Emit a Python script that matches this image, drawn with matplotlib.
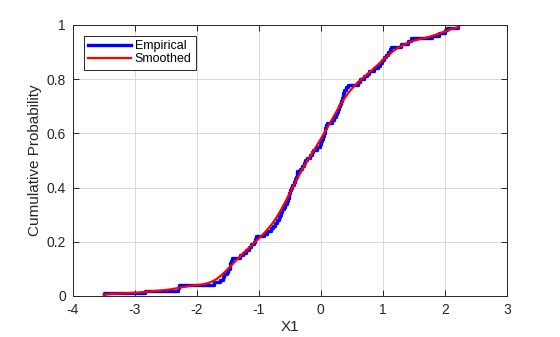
import math

import numpy as np
import matplotlib
matplotlib.use("Agg")
import matplotlib.pyplot as plt

# sorted sample (100 points, steps of 0.01)
x1_sorted = [
    -3.50, -2.84, -2.30, -2.28, -1.72, -1.62, -1.58, -1.56, -1.52, -1.50,
    -1.47, -1.46, -1.45, -1.44, -1.30, -1.25, -1.20, -1.16, -1.12, -1.08,
    -1.06, -1.04, -0.92, -0.86, -0.80, -0.77, -0.74, -0.71, -0.68, -0.66,
    -0.64, -0.62, -0.60, -0.58, -0.55, -0.53, -0.52, -0.51, -0.50, -0.48,
    -0.46, -0.44, -0.42, -0.40, -0.39, -0.38, -0.33, -0.30, -0.27, -0.25,
    -0.22, -0.18, -0.14, -0.12, -0.06, -0.02, 0.00, 0.02, 0.04, 0.05,
    0.06, 0.07, 0.08, 0.10, 0.18, 0.22, 0.24, 0.26, 0.28, 0.30,
    0.31, 0.32, 0.34, 0.35, 0.36, 0.38, 0.40, 0.44, 0.60, 0.63,
    0.70, 0.74, 0.78, 0.85, 0.92, 0.96, 0.99, 1.02, 1.05, 1.08,
    1.12, 1.14, 1.30, 1.40, 1.46, 1.80, 1.90, 2.00, 2.04, 2.22,
]
kernel_bw = 0.18

xticks = [-4, -3, -2, -1, 0, 1, 2, 3]
yticks = [0, 0.2, 0.4, 0.6, 0.8, 1]

plt.rcParams["font.family"] = ["Liberation Sans", "DejaVu Sans"]
plt.rcParams["axes.unicode_minus"] = False

data = np.array(x1_sorted)
n = len(data)
stair_x = np.concatenate([[data[0]], data])
stair_y = np.arange(n + 1) / n

# gaussian kernel smoothed cdf
grid = np.linspace(data.min(), data.max(), 300)
erf = np.vectorize(math.erf)
smooth = np.array([np.mean(0.5 * (1 + erf((g - data) / (kernel_bw * np.sqrt(2))))) for g in grid])

fig = plt.figure(figsize=(5.6, 3.37), dpi=100)
ax = fig.add_axes([0.130, 0.1217, 0.775, 0.8043])

ax.plot(stair_x, stair_y, drawstyle="steps-post", color="#0000ff", lw=2.4, label="Empirical")
ax.plot(grid, smooth, color="#ff0000", lw=1.6, label="Smoothed")

ax.set_xlim(-4, 3)
ax.set_ylim(0, 1)
ax.set_xticks(xticks)
ax.set_yticks(yticks)
ax.set_yticklabels([f"{t:g}" for t in yticks])
ax.grid(True, color="#d9d9d9", lw=0.7)
ax.set_axisbelow(True)
ax.tick_params(direction="in", length=4, width=0.7, top=True, right=True,
               labelsize=10, colors="#262626", pad=5)
for spine in ax.spines.values():
    spine.set_color("#262626")
    spine.set_linewidth(0.7)
ax.set_xlabel("X1", fontsize=11, color="#262626", labelpad=2)
ax.set_ylabel("Cumulative Probability", fontsize=11, color="#262626", labelpad=3)

leg = ax.legend(loc="upper left", bbox_to_anchor=(0.026, 0.96), fontsize=9,
                fancybox=False, framealpha=1, edgecolor="#262626",
                handlelength=3.4, handletextpad=0.3, borderpad=0.35,
                labelspacing=0.1, borderaxespad=0)
leg.get_frame().set_linewidth(0.7)

plt.savefig("out.png", dpi=100)
plt.close()
